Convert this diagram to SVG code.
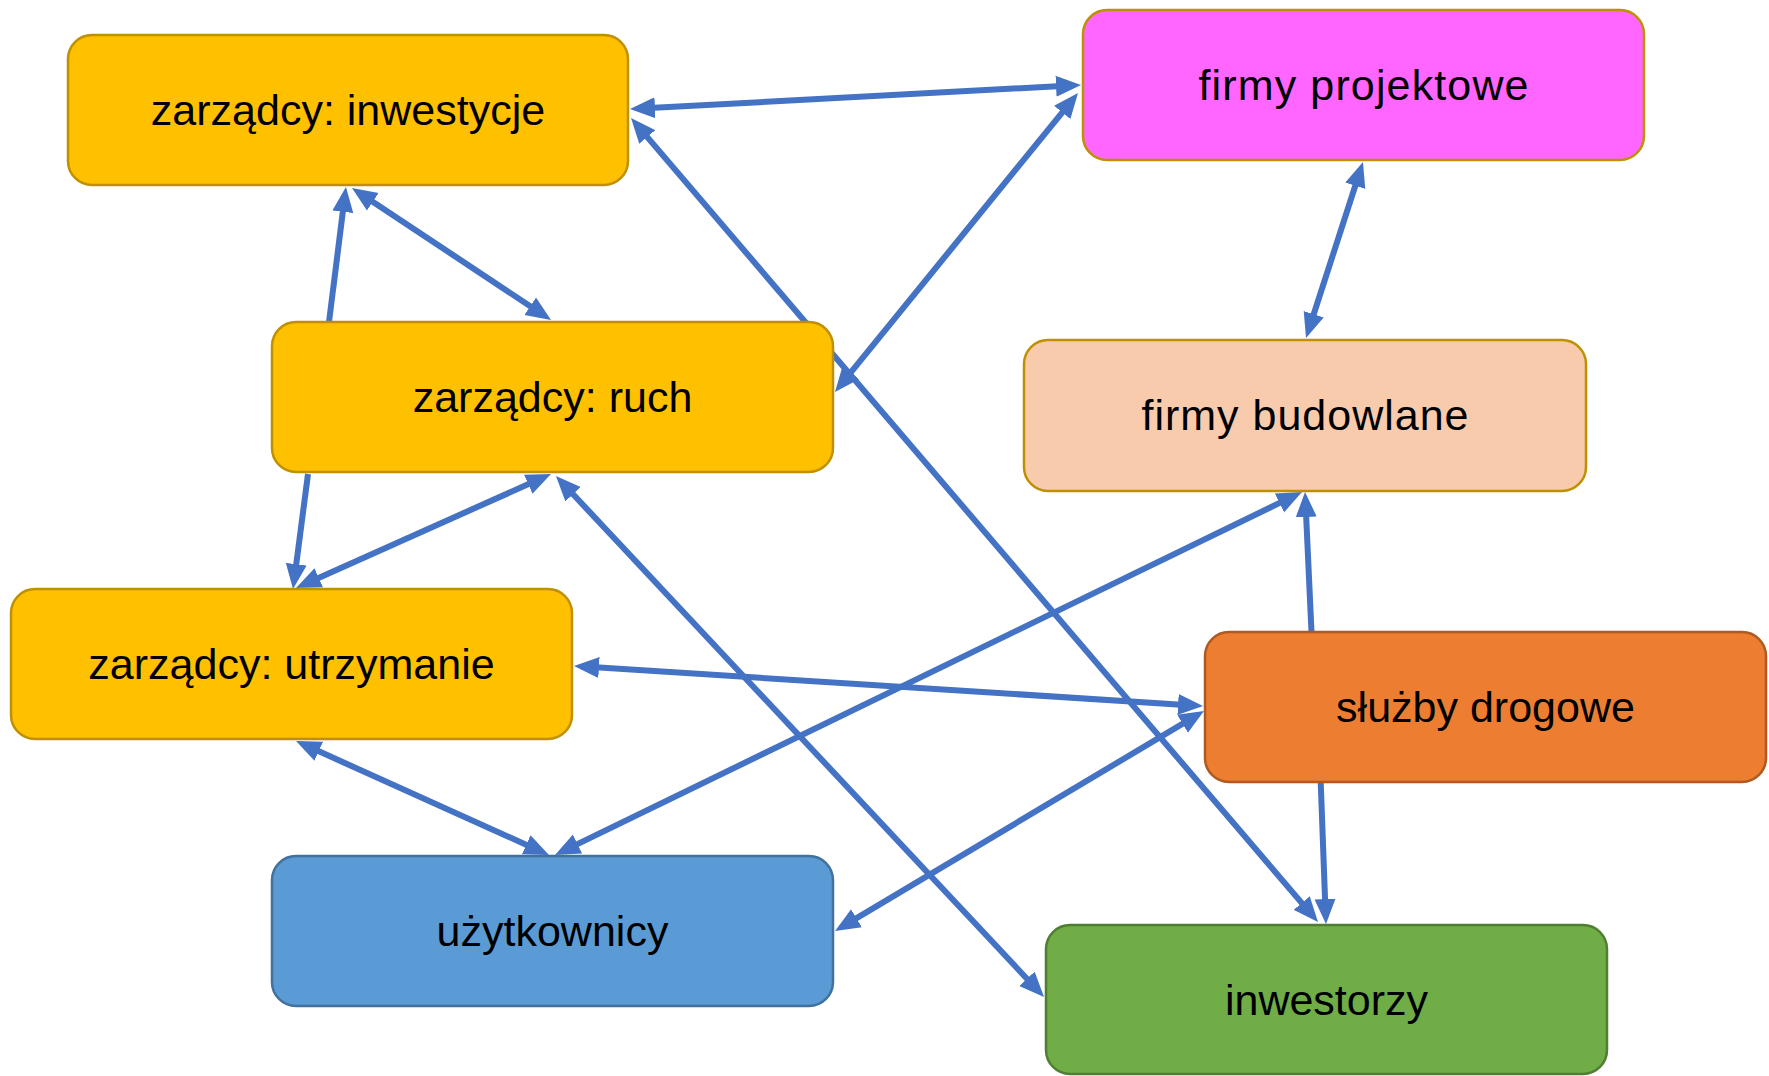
<svg xmlns="http://www.w3.org/2000/svg" width="1769" height="1076" viewBox="0 0 1769 1076">
<style>
.box{stroke-width:2.5}
.lbl{font-family:"Liberation Sans",Arial,sans-serif;font-size:43px;fill:#000;text-anchor:middle}
.c{stroke:#4472C4;stroke-width:6;fill:none}
.both{marker-start:url(#ah);marker-end:url(#ah)}
.one{marker-end:url(#ah)}
</style>
<defs>
<marker id="ah" viewBox="0 0 25 22" markerWidth="25" markerHeight="22" refX="15" refY="11" markerUnits="userSpaceOnUse" orient="auto-start-reverse">
<path d="M0,0.5 L25,11 L0,21.5 z" fill="#4472C4"/>
</marker>
</defs>
<rect width="1769" height="1076" fill="#fff"/>
<g id="connectors">
<line class="c both" x1="640" y1="108.5" x2="1071" y2="85.5"/>
<line class="c both" x1="841.3" y1="384.2" x2="1071.7" y2="100.8"/>
<line class="c both" x1="637.5" y1="125.6" x2="1311.5" y2="914.4"/>
<line class="c one" x1="329" y1="322" x2="344.7" y2="196.9"/>
<line class="c both" x1="360.3" y1="193.5" x2="542.7" y2="314.5"/>
<line class="c both" x1="1359.9" y1="171.5" x2="1309.1" y2="328.5"/>
<line class="c one" x1="308" y1="474" x2="294.3" y2="579.1"/>
<line class="c both" x1="305.1" y1="583.9" x2="541.9" y2="478.1"/>
<line class="c both" x1="562.8" y1="483.3" x2="1037.2" y2="989.7"/>
<line class="c both" x1="584" y1="666.6" x2="1193" y2="705.4"/>
<line class="c both" x1="1195.4" y1="716.1" x2="843.6" y2="925.9"/>
<line class="c both" x1="305.1" y1="745.1" x2="539.9" y2="850.9"/>
<line class="c both" x1="564" y1="850.6" x2="1293" y2="496.4"/>
<line class="c one" x1="1311.5" y1="632" x2="1305.5" y2="502"/>
<line class="c one" x1="1320.7" y1="782" x2="1325.6" y2="914"/>
</g>
<g id="n-zarzadcy-inwestycje">
<rect class="box" x="68" y="35" width="560" height="150" rx="24" fill="#FFC000" stroke="#BF9000"/>
<text class="lbl" x="348" y="125">zarządcy: inwestycje</text>
</g>
<g id="n-firmy-projektowe">
<rect class="box" x="1083" y="10" width="561" height="150" rx="24" fill="#FF66FF" stroke="#BF9000"/>
<text class="lbl" x="1363.5" y="100" textLength="330" lengthAdjust="spacing">firmy projektowe</text>
</g>
<g id="n-zarzadcy-ruch">
<rect class="box" x="272" y="322" width="561" height="150" rx="24" fill="#FFC000" stroke="#BF9000"/>
<text class="lbl" x="552.5" y="412">zarządcy: ruch</text>
</g>
<g id="n-firmy-budowlane">
<rect class="box" x="1024" y="340" width="562" height="151" rx="24" fill="#F8CBAD" stroke="#BF9000"/>
<text class="lbl" x="1305" y="430" textLength="327" lengthAdjust="spacing">firmy budowlane</text>
</g>
<g id="n-zarzadcy-utrzymanie">
<rect class="box" x="11" y="589" width="561" height="150" rx="24" fill="#FFC000" stroke="#BF9000"/>
<text class="lbl" x="291.5" y="679">zarządcy: utrzymanie</text>
</g>
<g id="n-sluzby-drogowe">
<rect class="box" x="1205" y="632" width="561" height="150" rx="24" fill="#ED7D31" stroke="#AE5A21"/>
<text class="lbl" x="1485.5" y="722">służby drogowe</text>
</g>
<g id="n-uzytkownicy">
<rect class="box" x="272" y="856" width="561" height="150" rx="24" fill="#5B9BD5" stroke="#41719C"/>
<text class="lbl" x="552.5" y="946">użytkownicy</text>
</g>
<g id="n-inwestorzy">
<rect class="box" x="1046" y="925" width="561" height="149" rx="24" fill="#70AD47" stroke="#507E32"/>
<text class="lbl" x="1326.5" y="1015">inwestorzy</text>
</g>
</svg>
